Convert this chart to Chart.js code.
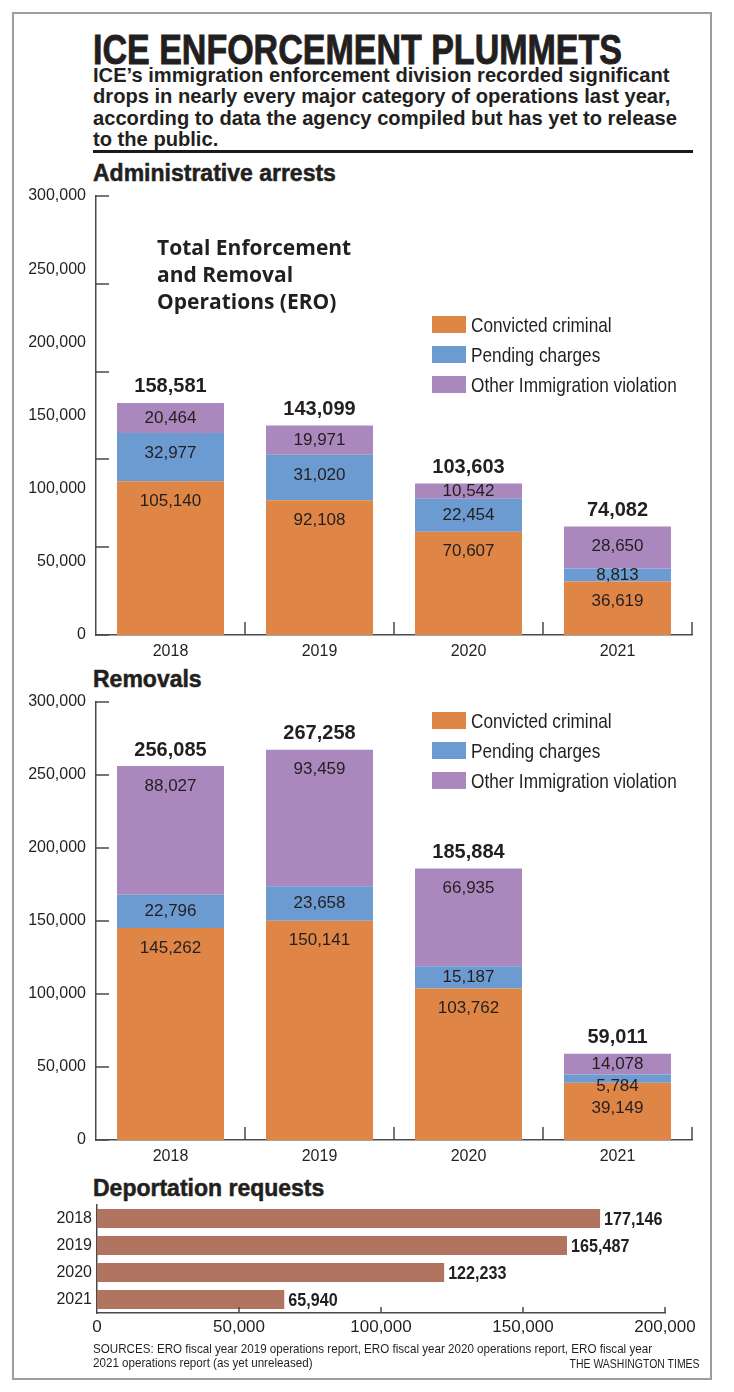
<!DOCTYPE html>
<html>
<head>
<meta charset="utf-8">
<title>ICE enforcement plummets</title>
<script src="https://cdn.jsdelivr.net/npm/chart.js@4.4.1/dist/chart.umd.min.js"></script>
<style>
  body { margin: 0; background: #fff; width: 734px; height: 1392px; position: relative; overflow: hidden;
         font-family: 'Liberation Sans', Arial, sans-serif; color: #231f20; }
  .abs { position: absolute; white-space: nowrap; }
  .fit { display: inline-block; transform-origin: 0 0; }
  #frame { left: 12px; top: 12px; width: 696px; height: 1364px; border: 2px solid #9d9d9d; }
  #title { left: 93px; top: 28px; font-size: 43px; line-height: 43px; font-weight: bold; -webkit-text-stroke: 0.9px #231f20; }
  #dek { left: 93px; top: 64px; font-size: 21px; line-height: 21.3px; font-weight: bold; }
  #rule { left: 93px; top: 150px; width: 600px; height: 3px; background: #1a1a1a; }
  .head { left: 93px; font-size: 23px; line-height: 23px; font-weight: bold; -webkit-text-stroke: 0.5px #231f20; }
  #ero { left: 157px; top: 234px; font-family: 'Open Sans', sans-serif; font-size: 21px; line-height: 27px; font-weight: bold; }
  canvas { position: absolute; left: 0; }
  .legend { left: 432px; height: 17px; width: 280px; }
  .legend .sw { position: absolute; left: 0; top: 0; width: 34px; height: 17px; }
  .legend .lt { position: absolute; left: 39px; top: 0; font-size: 21px; line-height: 17px; transform: scaleX(0.82); transform-origin: 0 50%; }
  #src { left: 93px; top: 1342px; font-size: 13px; line-height: 14px; }
  #wt { right: 34px; top: 1357px; font-size: 13px; line-height: 14px; }
  #wt .fit { transform-origin: 100% 0; }
</style>
</head>
<body>
<div id="frame" class="abs"></div>
<div id="title" class="abs"><span class="fit" data-w="529">ICE ENFORCEMENT PLUMMETS</span></div>
<div id="dek" class="abs"><span class="fit" data-w="584">ICE’s immigration enforcement division recorded significant<br>drops in nearly every major category of operations last year,<br>according to data the agency compiled but has yet to release<br>to the public.</span></div>
<div id="rule" class="abs"></div>
<div class="abs head" style="top:162px">Administrative arrests</div>
<div class="abs head" style="top:668px">Removals</div>
<div class="abs head" style="top:1177px">Deportation requests</div>

<canvas id="arrests" width="734" height="494" style="top:176px"></canvas>
<canvas id="removals" width="734" height="498" style="top:682px"></canvas>
<canvas id="deport" width="734" height="160" style="top:1190px"></canvas>

<div id="ero" class="abs">Total Enforcement<br>and Removal<br>Operations (ERO)</div>
<div id="src" class="abs"><span class="fit" data-w="559">SOURCES: ERO fiscal year 2019 operations report, ERO fiscal year 2020 operations report, ERO fiscal year<br>2021 operations report (as yet unreleased)</span></div>
<div id="wt" class="abs"><span class="fit" data-w="130">THE WASHINGTON TIMES</span></div>

<script>
const years = ['2018', '2019', '2020', '2021'];
const seriesNames = ['Convicted criminal', 'Pending charges', 'Other Immigration violation'];
const seriesColors = ['#df8546', '#6c9bd1', '#aa88bd'];

// Administrative arrests
const arrestsConvicted = [105140, 92108, 70607, 36619];
const arrestsPending = [32977, 31020, 22454, 8813];
const arrestsOther = [20464, 19971, 10542, 28650];
const arrestsTotal = [158581, 143099, 103603, 74082];

// Removals
const removalsConvicted = [145262, 150141, 103762, 39149];
const removalsPending = [22796, 23658, 15187, 5784];
const removalsOther = [88027, 93459, 66935, 14078];
const removalsTotal = [256085, 267258, 185884, 59011];

// Deportation requests
const deportRequests = [177146, 165487, 122233, 65940];

const valueTicks = [0, 50000, 100000, 150000, 200000, 250000, 300000];
const arrestsTickMarks = [0, 60000, 120000, 180000, 240000, 300000];
const deportTicks = [0, 50000, 100000, 150000, 200000];

const TEXT = '#231f20';
const AXIS = '#4a4a4a';
const FONT = "'Liberation Sans', Arial, sans-serif";
const fmt = v => v.toLocaleString('en-US');

// squeeze html text to the widths of the original lettering
document.querySelectorAll('.fit[data-w]').forEach(el => {
  const w = el.getBoundingClientRect().width;
  el.style.transform = `scaleX(${+el.dataset.w / w})`;
});

// legends
function buildLegend(top) {
  seriesNames.forEach((name, i) => {
    const row = document.createElement('div');
    row.className = 'abs legend';
    row.style.top = (top + i * 30) + 'px';
    row.innerHTML = `<span class="sw" style="background:${seriesColors[i]}"></span><span class="lt">${name}</span>`;
    document.body.appendChild(row);
  });
}
buildLegend(316);
buildLegend(712);

// tick marks drawn inward from the axes
const axisMarks = {
  id: 'axisMarks',
  afterDraw(chart, args, o) {
    const { ctx, chartArea: a } = chart;
    ctx.save();
    ctx.strokeStyle = AXIS;
    ctx.lineWidth = 1.5;
    ctx.beginPath();
    if (o.yValues) {
      o.yValues.forEach(v => {
        const p = Math.round(chart.scales.y.getPixelForValue(v));
        ctx.moveTo(a.left, p); ctx.lineTo(a.left + o.len, p);
      });
    }
    if (o.xValues) {
      o.xValues.forEach(v => {
        const p = Math.round(chart.scales.x.getPixelForValue(v));
        ctx.moveTo(p, a.bottom); ctx.lineTo(p, a.bottom - o.len);
      });
    }
    if (o.categoryEdges) {
      chart.data.labels.forEach((l, i) => {
        const p = Math.round(chart.scales.x.getPixelForValue(i + 0.5));
        ctx.moveTo(p, a.bottom); ctx.lineTo(p, a.bottom - o.len);
      });
    }
    ctx.stroke();
    ctx.restore();
  }
};

// numbers inside the stacked bars + bold totals on top
const stackLabels = {
  id: 'stackLabels',
  afterDatasetsDraw(chart, args, o) {
    const ctx = chart.ctx;
    const sets = chart.data.datasets;
    ctx.save();
    ctx.fillStyle = TEXT;
    ctx.textAlign = 'center';
    ctx.textBaseline = 'middle';
    chart.data.labels.forEach((label, i) => {
      let prev = -Infinity;
      for (let d = sets.length - 1; d >= 0; d--) {
        const bar = chart.getDatasetMeta(d).data[i];
        const h = bar.base - bar.y;
        const y = Math.max(bar.y + Math.min(h / 2, 20), prev + 22);
        ctx.font = '17px ' + FONT;
        ctx.fillText(fmt(sets[d].data[i]), bar.x, y);
        prev = y;
      }
      const top = chart.getDatasetMeta(sets.length - 1).data[i];
      ctx.font = 'bold 20px ' + FONT;
      ctx.fillText(fmt(o.totals[i]), top.x, top.y - 16);
    });
    ctx.restore();
  }
};

// bold values at the end of horizontal bars
const endLabels = {
  id: 'endLabels',
  afterDatasetsDraw(chart) {
    const ctx = chart.ctx;
    const ds = chart.data.datasets[0];
    ctx.save();
    ctx.fillStyle = TEXT;
    ctx.font = 'bold 19px ' + FONT;
    ctx.textAlign = 'left';
    ctx.textBaseline = 'middle';
    chart.getDatasetMeta(0).data.forEach((bar, i) => {
      ctx.save();
      ctx.translate(bar.x + 4, bar.y + 1);
      ctx.scale(0.85, 1);
      ctx.fillText(fmt(ds.data[i]), 0, 0);
      ctx.restore();
    });
    ctx.restore();
  }
};

function stackedChart(id, convicted, pending, other, totals, xHeight, tickMarks) {
  return new Chart(document.getElementById(id), {
    type: 'bar',
    data: {
      labels: years,
      datasets: [
        { label: seriesNames[0], data: convicted, backgroundColor: seriesColors[0] },
        { label: seriesNames[1], data: pending, backgroundColor: seriesColors[1] },
        { label: seriesNames[2], data: other, backgroundColor: seriesColors[2] }
      ]
    },
    options: {
      responsive: false,
      animation: false,
      layout: { padding: { top: 0, right: 42, left: 0, bottom: 0 } },
      datasets: { bar: { barPercentage: 0.718, categoryPercentage: 1 } },
      plugins: {
        legend: { display: false },
        tooltip: { enabled: false },
        axisMarks: { yValues: tickMarks, categoryEdges: true, len: 13 },
        stackLabels: { totals }
      },
      scales: {
        x: {
          stacked: true,
          grid: { display: false, drawTicks: false },
          border: { color: AXIS, width: 1.5 },
          ticks: { color: TEXT, font: { family: FONT, size: 16 }, padding: 7 },
          afterFit: s => { s.height = xHeight; }
        },
        y: {
          stacked: true,
          min: 0,
          max: 300000,
          grid: { display: false, drawTicks: false },
          border: { color: AXIS, width: 1.5 },
          ticks: { color: TEXT, font: { family: FONT, size: 16, lineHeight: 1.25 }, padding: 10, callback: v => fmt(v) },
          afterBuildTicks: s => { s.ticks = valueTicks.map(v => ({ value: v })); },
          afterFit: s => { s.width = 96; }
        }
      }
    },
    plugins: [axisMarks, stackLabels]
  });
}

stackedChart('arrests', arrestsConvicted, arrestsPending, arrestsOther, arrestsTotal, 35, arrestsTickMarks);
stackedChart('removals', removalsConvicted, removalsPending, removalsOther, removalsTotal, 40, valueTicks);

new Chart(document.getElementById('deport'), {
  type: 'bar',
  data: {
    labels: years,
    datasets: [{ label: 'Deportation requests', data: deportRequests, backgroundColor: '#b07460' }]
  },
  options: {
    indexAxis: 'y',
    responsive: false,
    animation: false,
    layout: { padding: { top: 15, right: 69, left: 0, bottom: 0 } },
    datasets: { bar: { barPercentage: 0.7, categoryPercentage: 1 } },
    plugins: {
      legend: { display: false },
      tooltip: { enabled: false },
      axisMarks: { xValues: deportTicks.slice(1), len: 6 }
    },
    scales: {
      x: {
        min: 0,
        max: 200000,
        grid: { display: false, drawTicks: false },
        border: { color: AXIS, width: 1.5 },
        ticks: { color: TEXT, font: { family: FONT, size: 17 }, padding: 4, callback: v => fmt(v) },
        afterBuildTicks: s => { s.ticks = deportTicks.map(v => ({ value: v })); },
        afterFit: s => { s.height = 37; }
      },
      y: {
        grid: { display: false, drawTicks: false },
        border: { color: AXIS, width: 1.5 },
        ticks: { color: TEXT, font: { family: FONT, size: 16 }, padding: 5 },
        afterFit: s => { s.width = 97; }
      }
    }
  },
  plugins: [axisMarks, endLabels]
});
</script>
</body>
</html>
